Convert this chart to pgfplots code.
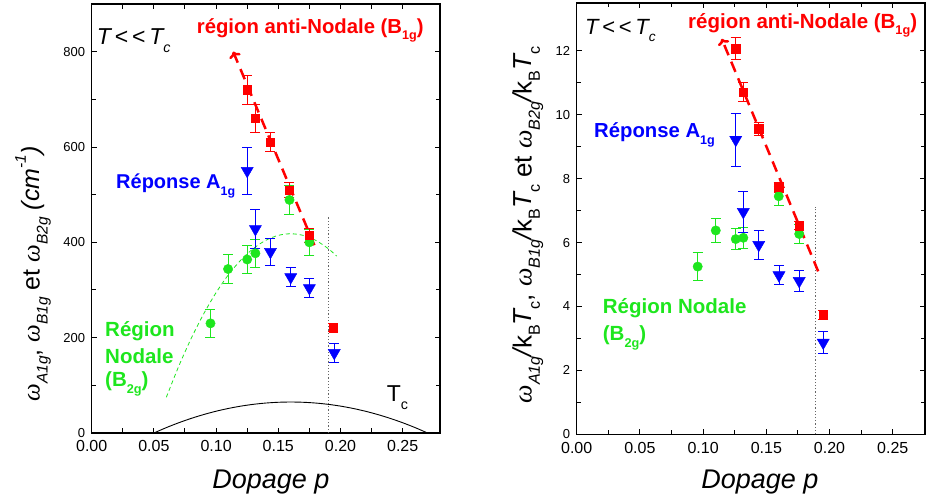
\documentclass[border=0pt]{standalone}
\usepackage{fontspec}
\usepackage{graphicx}
\setmainfont{Liberation Sans}
\newfontfamily\omegafont{Liberation Serif}
\usepackage{pgfplots}
\pgfplotsset{compat=1.18}
\usetikzlibrary{arrows.meta}
\definecolor{myred}{RGB}{255,0,0}
\definecolor{myblue}{RGB}{0,0,255}
\definecolor{mygreen}{RGB}{30,230,30}
\newcommand{\om}{{\omegafont\itshape ω}}
\newcommand{\sbs}[1]{\raisebox{-0.32em}{\scalebox{0.62}{#1}}}
\newcommand{\sps}[1]{\raisebox{0.55em}{\scalebox{0.62}{#1}}}
\pgfplotsset{
  mystyle/.style={
    scale only axis,
    anchor=south west,
    xmin=0, xmax=0.28,
    axis line style={line width=1.2pt},
    tick style={line width=1pt, black},
    major tick length=5pt, minor tick length=4.5pt,
    tick align=inside,
    minor x tick num=1, minor y tick num=1,
    xtick={0,0.05,0.10,0.15,0.20,0.25},
    /pgf/number format/assume math mode=true,
    xticklabel style={/pgf/number format/.cd, fixed, fixed zerofill, precision=2, /tikz/.cd, font=\fontsize{16}{16}\selectfont, yshift=-4pt},
    yticklabel style={font=\fontsize{13}{13}\selectfont, xshift=-3pt},
    clip=false,
  },
  redm/.style={myred, mark=square*, mark size=4.2pt, mark options={fill=myred, draw=myred}, only marks,
    error bars/.cd, y dir=both, y explicit, error bar style={line width=0.9pt, myred}, error mark options={rotate=90, line width=0.9pt, mark size=5pt, myred}},
  bluem/.style={myblue, mark=triangle*, mark size=7pt, mark options={rotate=180, fill=myblue, draw=myblue}, only marks,
    error bars/.cd, y dir=both, y explicit, error bar style={line width=0.9pt, myblue}, error mark options={rotate=90, line width=0.9pt, mark size=5pt, myblue}},
  greenm/.style={mygreen, mark=*, mark size=4.7pt, mark options={fill=mygreen, draw=mygreen}, only marks,
    error bars/.cd, y dir=both, y explicit, error bar style={line width=0.9pt, mygreen}, error mark options={rotate=90, line width=0.9pt, mark size=5pt, mygreen}},
}
\begin{document}
\begin{tikzpicture}
\path[use as bounding box] (0pt,0pt) rectangle (927pt,503pt);
% ---------------- left axis
\begin{axis}[mystyle, at={(91.7pt,70pt)}, width=348.3pt, height=429pt,
  ymin=0, ymax=900, ytick={0,200,400,600,800}]
\addplot[black, line width=0.9pt, smooth] coordinates {
(0.05,0) (0.06,11.31) (0.07,21.51) (0.08,30.64) (0.09,38.69) (0.10,45.67) (0.11,51.58) (0.12,56.41)
(0.13,60.17) (0.14,62.85) (0.15,64.46) (0.16,65) (0.17,64.46) (0.18,62.85) (0.19,60.17) (0.20,56.41)
(0.21,51.58) (0.22,45.67) (0.23,38.69) (0.24,30.64) (0.25,21.51) (0.26,11.31) (0.27,0)};
\addplot[mygreen, line width=0.8pt, dash pattern=on 4pt off 3pt, smooth] coordinates {
(0.06,75) (0.07,140.2) (0.08,198.5) (0.09,249.9) (0.10,294.5) (0.11,332.3) (0.12,363.1) (0.13,387.1)
(0.14,404.3) (0.15,414.6) (0.16,418) (0.17,414.6) (0.18,404.3) (0.19,387.1) (0.197,371)};
\addplot[gray!80!black, line width=1pt, dash pattern=on 1.2pt off 2pt] coordinates {(0.19,0) (0.19,455)};
\addplot[myred, line width=2.5pt, dash pattern=on 11pt off 7pt, -{To[length=6pt,width=12pt]}] coordinates {(0.179,394) (0.1137,800)};
\addplot[greenm] table[x=x, y=y, y error=e] {
x y e
0.0955 230 30
0.1096 344 30
0.125 364 30
0.1316 377 30
0.159 489 30
0.175 400 28
};
\addplot[bluem] table[x=x, y=y, y error=e] {
x y e
0.125 550 50
0.1316 428 40
0.1437 380 28
0.160 327 20
0.175 304 20
0.195 168 20
};
\addplot[redm] table[x=x, y=y, y error=e] {
x y e
0.125 720 30
0.1316 660 30
0.1437 610 20
0.159 510 15
0.175 415 15
0.194 221 8
};
\end{axis}
% ---------------- right axis
\begin{axis}[mystyle, at={(576.7pt,68.7pt)}, width=348.3pt, height=431.3pt, xmax=0.2755,
  ymin=0, ymax=13.5, ytick={0,2,4,6,8,10,12}]
\addplot[gray!80!black, line width=1pt, dash pattern=on 1.2pt off 2pt] coordinates {(0.189,0) (0.189,7.13)};
\addplot[myred, line width=2.5pt, dash pattern=on 11pt off 7pt, -{To[length=6pt,width=12pt]}] coordinates {(0.191,5.1) (0.1147,12.38)};
\addplot[greenm] table[x=x, y=y, y error=e] {
x y e
0.0957 5.25 0.45
0.110 6.38 0.38
0.1258 6.11 0.33
0.1318 6.15 0.33
0.1598 7.45 0.30
0.176 6.27 0.30
};
\addplot[bluem] table[x=x, y=y, y error=e] {
x y e
0.1258 9.22 0.83
0.1318 6.96 0.63
0.144 5.93 0.45
0.160 4.98 0.30
0.176 4.80 0.32
0.195 2.87 0.35
};
\addplot[redm] table[x=x, y=y, y error=e] {
x y e
0.1258 12.07 0.35
0.1318 10.71 0.30
0.144 9.56 0.20
0.1598 7.73 0.15
0.176 6.53 0.12
0.195 3.74 0.15
};
\end{axis}
% ---------------- labels
\node[font=\fontsize{27}{27}\selectfont\itshape] at (271pt,21.3pt) {Dopage p};
\node[font=\fontsize{27}{27}\selectfont\itshape] at (760pt,21.3pt) {Dopage p};
\node[rotate=90, font=\fontsize{25}{25}\selectfont] at (33pt,229pt)
  {\om\sbs{\itshape A1g}, \om\sbs{\itshape B1g} et \om\sbs{\itshape B2g} {\itshape (cm\sps{-1})}};
\node[rotate=90, font=\fontsize{26}{26}\selectfont] at (528pt,278pt)
  {\om\sbs{\itshape A1g}{\itshape/}k\sbs{B}{\itshape T}\sbs{c}, \om\sbs{\itshape B1g}{\itshape/}k\sbs{B}{\itshape T}\sbs{c} et \om\sbs{\itshape B2g}{\itshape/}k\sbs{B}{\itshape T}\sbs{c}};
% annotations left
\node[anchor=base west, inner sep=0pt, font=\fontsize{23}{23}\selectfont] at (96.7pt,458pt) {{\itshape T}\,<\,<\,{\itshape T}\sbs{\itshape c}};
\node[anchor=base west, inner sep=0pt, text=myred, font=\fontsize{20.3}{20.3}\selectfont\bfseries] at (196.7pt,469.7pt) {région anti-Nodale (B\sbs{1g})};
\node[anchor=base west, inner sep=0pt, text=myblue, font=\fontsize{20}{20}\selectfont\bfseries] at (116pt,314pt) {Réponse A\sbs{1g}};
\node[anchor=base west, inner sep=0pt, text=mygreen, font=\fontsize{20.5}{20.5}\selectfont\bfseries] at (105pt,166.3pt) {Région};
\node[anchor=base west, inner sep=0pt, text=mygreen, font=\fontsize{20.5}{20.5}\selectfont\bfseries] at (105pt,139.7pt) {Nodale};
\node[anchor=base west, inner sep=0pt, text=mygreen, font=\fontsize{20.5}{20.5}\selectfont\bfseries] at (105pt,116pt) {(B\sbs{2g})};
\node[anchor=base west, inner sep=0pt, font=\fontsize{23}{23}\selectfont] at (386.7pt,101.3pt) {T\sbs{c}};
% annotations right
\node[anchor=base west, inner sep=0pt, font=\fontsize{22}{22}\selectfont] at (585pt,468.7pt) {{\itshape T}\,<\,<\,{\itshape T}\sbs{\itshape c}};
\node[anchor=base west, inner sep=0pt, text=myred, font=\fontsize{20.5}{20.5}\selectfont\bfseries] at (688pt,474.7pt) {région anti-Nodale (B\sbs{1g})};
\node[anchor=base west, inner sep=0pt, text=myblue, font=\fontsize{20.3}{20.3}\selectfont\bfseries] at (594pt,365.3pt) {Réponse A\sbs{1g}};
\node[anchor=base west, inner sep=0pt, text=mygreen, font=\fontsize{20.5}{20.5}\selectfont\bfseries] at (602.7pt,189pt) {Région Nodale};
\node[anchor=base west, inner sep=0pt, text=mygreen, font=\fontsize{20.5}{20.5}\selectfont\bfseries] at (602.7pt,162.3pt) {(B\sbs{2g})};
\end{tikzpicture}
\end{document}
